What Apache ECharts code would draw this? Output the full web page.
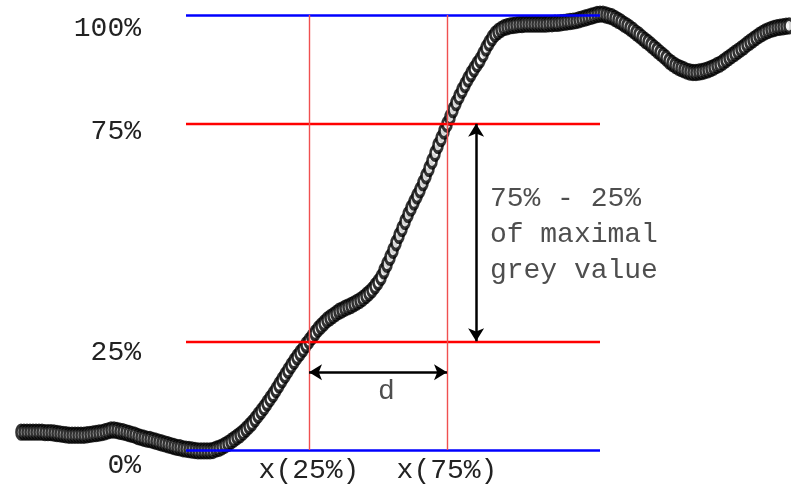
<!DOCTYPE html>
<html>
<head>
<meta charset="utf-8">
<script src="https://cdn.jsdelivr.net/npm/echarts@6/dist/echarts.min.js"></script>
<style>
  html, body { margin: 0; padding: 0; background: #fff; }
  #chart { width: 791px; height: 488px; }
</style>
</head>
<body>
<div id="chart"></div>
<script>
// grey value profile along the line, % of the maximal grey value (one value per sample)
const greyProfile = [
  4.1, 4.1, 4.1, 4.1, 4.1, 4.1, 4.1, 4.1, 4.0, 4.0,
  4.0, 3.9, 3.8, 3.7, 3.6, 3.5, 3.4, 3.4, 3.4, 3.4,
  3.4, 3.4, 3.5, 3.6, 3.7, 3.8, 3.9, 4.0, 4.2, 4.4,
  4.6, 4.6, 4.5, 4.3, 4.2, 4.0, 3.8, 3.6, 3.4, 3.1,
  2.9, 2.7, 2.5, 2.4, 2.2, 2.0, 1.8, 1.6, 1.4, 1.2,
  1.0, 0.8, 0.6, 0.5, 0.3, 0.2, 0.1, 0.0, -0.1, -0.2,
  -0.2, -0.2, -0.2, -0.2, -0.1, 0.2, 0.4, 0.7, 1.1, 1.5,
  2.0, 2.5, 3.0, 3.5, 4.1, 4.8, 5.5, 6.2, 7.1, 8.0,
  8.9, 9.8, 10.8, 11.8, 12.8, 13.9, 15.0, 16.1, 17.2, 18.3,
  19.4, 20.4, 21.4, 22.3, 23.2, 24.2, 25.1, 26.0, 26.9, 27.8,
  28.5, 29.2, 29.9, 30.4, 30.9, 31.4, 31.9, 32.2, 32.6, 32.9,
  33.2, 33.6, 34.0, 34.4, 34.9, 35.5, 36.1, 36.8, 37.7, 38.6,
  39.7, 41.2, 42.7, 44.3, 45.9, 47.6, 49.3, 50.9, 52.5, 54.1,
  55.6, 57.0, 58.4, 59.8, 61.4, 63.0, 64.7, 66.4, 68.2, 70.0,
  71.6, 73.3, 74.9, 76.5, 78.2, 79.8, 81.3, 82.7, 84.0, 85.3,
  86.5, 87.6, 88.7, 89.7, 91.0, 92.4, 93.6, 94.7, 95.6, 96.2,
  96.7, 97.1, 97.3, 97.5, 97.6, 97.7, 97.8, 97.8, 97.9, 97.9,
  97.9, 97.9, 97.9, 97.9, 97.9, 97.9, 98.0, 98.0, 98.1, 98.1,
  98.2, 98.3, 98.4, 98.5, 98.6, 98.7, 98.9, 99.1, 99.3, 99.5,
  99.7, 99.9, 100.1, 100.2, 100.2, 100.0, 99.8, 99.6, 99.2, 98.8,
  98.4, 97.9, 97.5, 97.0, 96.5, 95.9, 95.4, 94.8, 94.2, 93.7,
  93.1, 92.5, 91.9, 91.3, 90.7, 90.1, 89.4, 88.9, 88.4, 88.0,
  87.7, 87.4, 87.1, 86.9, 86.8, 86.8, 86.9, 87.0, 87.2, 87.4,
  87.7, 88.0, 88.4, 88.7, 89.2, 89.7, 90.2, 90.7, 91.2, 91.7,
  92.2, 92.7, 93.3, 93.8, 94.3, 94.8, 95.3, 95.7, 96.1, 96.4,
  96.7, 96.9, 97.1, 97.2, 97.3, 97.4, 97.5
];

// reference levels (% of maximal grey value) and their tick labels
const levels = [0, 25, 75, 100];
const levelLabels = ['0%', '25%', '75%', '100%'];
const levelColors = ['#0000ff', '#ff0000', '#ff0000', '#0000ff'];
const levelSpan = [55, 193];          // sample range the level lines cover

// crossing positions (sample index) of the 25% and 75% levels
const crossings = [96, 142];
const crossingLabels = ['x(25%)', 'x(75%)'];

// annotations: [sample, %, text]
const notes = [
  [119, 13.4, 'd'],
  [156.3, 49.5, '75% - 25%\nof maximal\ngrey value']
];
const dArrowLevel = 17.9;            // height of the "d" arrow
const spanArrowAt = 151.7;           // sample of the vertical 75%-25% arrow

const FONT = '"Liberation Mono", "DejaVu Sans Mono", monospace';

// tick labels sit a little below their line, not all by the same amount
const labelDrop = [32, 22, 16, 28];
const tickRich = {};
labelDrop.forEach((p, k) => {
  tickRich['t' + k] = { fontFamily: FONT, fontSize: 28, color: '#222', padding: [p, 0, 0, 0] };
});

const chart = echarts.init(document.getElementById('chart'));

chart.setOption({
  animation: false,
  backgroundColor: '#fff',
  grid: { left: 21, right: 2, top: 15, bottom: 38 },
  xAxis: {
    type: 'value',
    min: 0,
    max: greyProfile.length - 1,
    show: false
  },
  yAxis: {
    type: 'value',
    min: 0,
    max: 100,
    interval: 25,
    offset: -124,
    axisLine: { show: false },
    axisTick: { show: false },
    splitLine: { show: false },
    axisLabel: {
      margin: 4,
      verticalAlign: 'middle',
      rich: tickRich,
      formatter: (v) => {
        const k = levels.indexOf(v);
        return k < 0 ? '' : '{t' + k + '|' + levelLabels[k] + '}';
      }
    }
  },
  series: [
    {
      // the measured profile, drawn as open (slightly tall) circles
      type: 'scatter',
      z: 2,
      clip: false,
      symbol: 'circle',
      symbolSize: [9, 13.5],
      itemStyle: { color: '#fff', borderColor: '#000', borderWidth: 3.2 },
      data: greyProfile.map((v, i) => [i, v])
    },
    {
      // horizontal reference levels
      type: 'line',
      z: 3,
      data: [],
      markLine: {
        silent: true,
        symbol: 'none',
        label: { show: false },
        data: levels.map((v, k) => [
          { coord: [levelSpan[0], v], lineStyle: { color: levelColors[k], width: k % 3 === 0 ? 2.7 : 2.3, type: 'solid' } },
          { coord: [levelSpan[1], v] }
        ])
      }
    },
    {
      // vertical lines at the crossings
      type: 'line',
      z: 3,
      data: [],
      markLine: {
        silent: true,
        symbol: 'none',
        lineStyle: { color: '#f05050', width: 1.4, type: 'solid' },
        label: {
          show: true,
          position: 'start',
          distance: 7,
          fontFamily: FONT,
          fontSize: 28,
          color: '#222'
        },
        data: crossings.map((c, k) => [
          { coord: [c, 0], label: { formatter: crossingLabels[k] } },
          { coord: [c, 100] }
        ])
      }
    },
    {
      // double arrows
      type: 'line',
      z: 4,
      data: [],
      markLine: {
        silent: true,
        symbol: ['arrow', 'arrow'],
        symbolSize: [12, 13],
        lineStyle: { color: '#000', width: 2.5, type: 'solid' },
        label: { show: false },
        data: [
          [{ coord: [crossings[0], dArrowLevel] }, { coord: [crossings[1], dArrowLevel] }],
          [{ coord: [spanArrowAt, levels[1]] }, { coord: [spanArrowAt, levels[2]] }]
        ]
      }
    },
    {
      // annotation texts
      type: 'scatter',
      z: 5,
      symbolSize: 0,
      silent: true,
      label: {
        show: true,
        position: 'right',
        distance: 0,
        align: 'left',
        fontFamily: FONT,
        fontSize: 28,
        lineHeight: 36,
        color: '#222',
        formatter: (p) => p.data[2]
      },
      data: notes
    }
  ]
});
</script>
</body>
</html>
